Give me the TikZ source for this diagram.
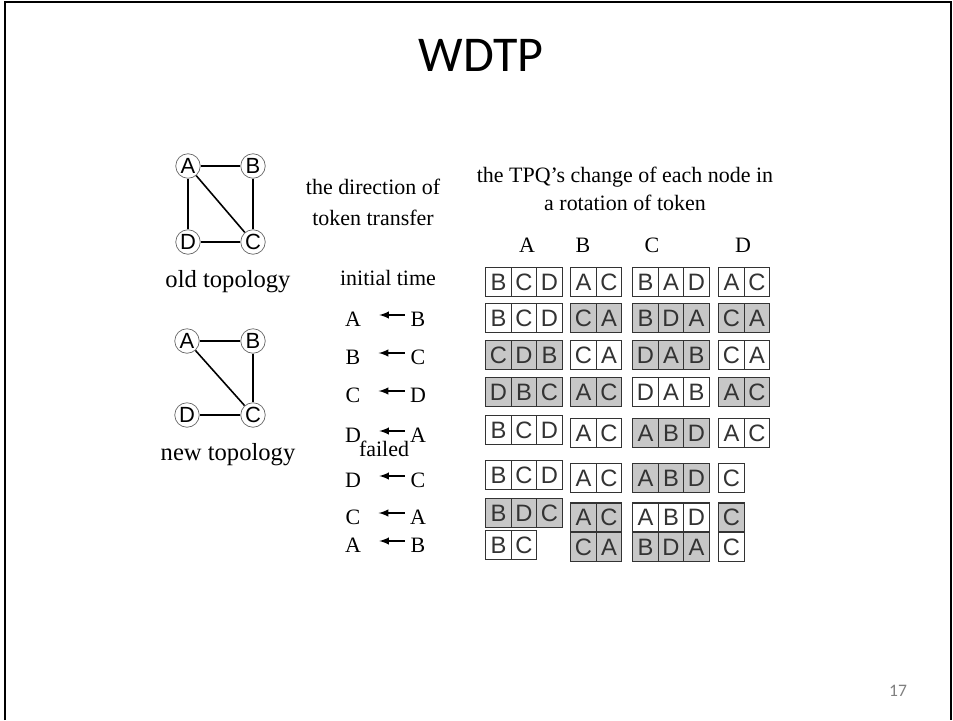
\documentclass[tikz,border=0pt]{standalone}
\usepackage{fontspec}
\setmainfont{Liberation Serif}
\newfontfamily\titlefont{Carlito}
\newfontfamily\cellfont{Liberation Sans}
\usetikzlibrary{positioning}
\usetikzlibrary{arrows}
\tikzset{
    % Small filled head for the token arrows
    >=latex,
%
    % Border of the slide
    slide frame/.style={line width=1.6pt},
%
    % A station of the ring, letter in a circle
    station/.style={
        draw=black!60, circle, minimum size=4.9mm, inner sep=0pt,
        font=\cellfont\fontsize{12.5}{12.5}\selectfont},
    link/.style={line width=0.9pt},
%
    % Plain text of the figure
    caption/.style={font=\fontsize{12.5}{17.5}\selectfont, align=center},
    % A name on either side of a token arrow
    holder/.style={caption, inner sep=0pt},
%
    % One slot of a token passing queue
    slot/.style={
        draw=black!80, line width=0.8pt, inner sep=0pt,
        minimum width=5.1mm, minimum height=5.8mm, text=black!80,
        font=\cellfont\fontsize{13.5}{13.5}\selectfont},
    busy/.style={fill=black!22},
    free/.style={fill=white},
%
    % Token handed from the right name to the left one
    token/.style={<-, line width=0.9pt, shorten <=3.6mm, shorten >=1mm}}
% one row of a queue: name, left x, centre y, fill, letters
\newcommand{\tpqrow}[5]{%
    \foreach \lt [count=\k] in {#5}
        \node [slot, #4, anchor=west] (#1-\k) at ({#2+(\k-1)*25.5}, #3) {\lt};}

\begin{document}
\begin{tikzpicture}[x=0.02cm, y=-0.02cm]
\useasboundingbox (0,0) rectangle (953,720);

\draw [slide frame] (5,720) -- (5,2) -- (951,2) -- (951,720);
\node [font=\titlefont\fontsize{28.5}{30}\selectfont] (title) at (481,55) {WDTP};
\node [font=\titlefont\fontsize{10}{12}\selectfont, text=black!50] (page) at (898,691) {17};

% old topology
\node [station] (old-a) at (188,166) {A};
\node [station] (old-b) at (253,166) {B};
\node [station] (old-c) at (253,242) {C};
\node [station] (old-d) at (188,242) {D};
\draw [link] (old-a) -- (old-b) -- (old-c) -- (old-d) -- (old-a);
\draw [link] (old-a) -- (old-c);
\node [caption, font=\fontsize{14}{16}\selectfont] (old cap) at (228,282) {old topology};

% new topology
\node [station] (new-a) at (187,341) {A};
\node [station] (new-b) at (253,341) {B};
\node [station] (new-c) at (253,415) {C};
\node [station] (new-d) at (187,415) {D};
\draw [link] (new-a) -- (new-b) -- (new-c) -- (new-d);
\draw [link] (new-a) -- (new-c);
\node [caption, font=\fontsize{14}{16}\selectfont] (new cap) at (228,455) {new topology};

% direction of the token
\node [caption] (dir cap) at (373,202) {the direction of\\token transfer};
\node [caption] (init) at (388,278) {initial time};
\foreach \a/\b/\y [count=\n] in {A/B/319, B/C/357, C/D/395, D/A/435,
        D/C/480, C/A/517, A/B/545} {
    \node [holder] (from\n) at (353,\y) {\a};
    \node [holder] (to\n) at (418,\y) {\b};
    \draw [token] ([yshift=0.8mm]from\n.east) -- ([yshift=0.8mm]to\n.west);
}
\node [caption] (failed) at (384,449) {failed};

% the queues
\node [caption, font=\fontsize{12.5}{16}\selectfont] (tpq cap)
    at (625,189) {the TPQ's change of each node in\\a rotation of token};
\foreach \h/\x in {A/527, B/583, C/652, D/743}
    \node [caption] (head-\h) at (\x,245) {\h};

\tpqrow{a1}{485}{282}{free}{B,C,D}
\tpqrow{b1}{570}{282}{free}{A,C}
\tpqrow{c1}{632}{282}{free}{B,A,D}
\tpqrow{d1}{718}{282}{free}{A,C}

\tpqrow{a2}{485}{318}{free}{B,C,D}
\tpqrow{b2}{570}{318}{busy}{C,A}
\tpqrow{c2}{632}{318}{busy}{B,D,A}
\tpqrow{d2}{718}{318}{busy}{C,A}

\tpqrow{a3}{485}{355}{busy}{C,D,B}
\tpqrow{b3}{570}{355}{free}{C,A}
\tpqrow{c3}{632}{355}{busy}{D,A,B}
\tpqrow{d3}{718}{355}{free}{C,A}

\tpqrow{a4}{485}{392}{busy}{D,B,C}
\tpqrow{b4}{570}{392}{busy}{A,C}
\tpqrow{c4}{632}{392}{free}{D,A,B}
\tpqrow{d4}{718}{392}{busy}{A,C}

\tpqrow{a5}{485}{430}{free}{B,C,D}
\tpqrow{b5}{570}{433}{free}{A,C}
\tpqrow{c5}{632}{433}{busy}{A,B,D}
\tpqrow{d5}{718}{433}{free}{A,C}

\tpqrow{a6}{485}{475}{free}{B,C,D}
\tpqrow{b6}{570}{478}{free}{A,C}
\tpqrow{c6}{632}{478}{busy}{A,B,D}
\tpqrow{d6}{718}{478}{free}{C}

\tpqrow{a7}{485}{513}{busy}{B,D,C}
\tpqrow{b7}{570}{517.5}{busy}{A,C}
\tpqrow{c7}{632}{517.5}{free}{A,B,D}
\tpqrow{d7}{718}{517.5}{busy}{C}

\tpqrow{a8}{485}{545}{free}{B,C}
\tpqrow{b8}{570}{547}{busy}{C,A}
\tpqrow{c8}{632}{547}{busy}{B,D,A}
\tpqrow{d8}{718}{547}{free}{C}

\end{tikzpicture}
\end{document}
